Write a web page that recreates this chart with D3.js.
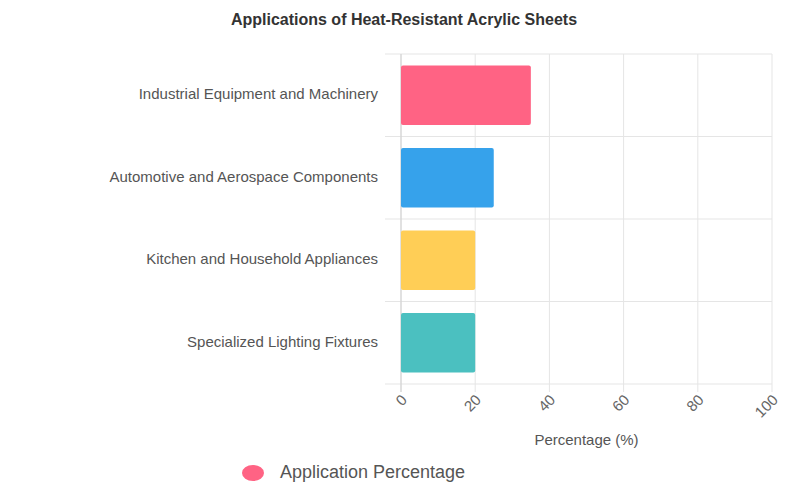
<!DOCTYPE html>
<html><head><meta charset="utf-8">
<script src="https://cdn.jsdelivr.net/npm/d3@7"></script>
<style>body{margin:0;background:#fff;font-family:"Helvetica Neue",Arial,"Liberation Sans",sans-serif;}</style>
</head><body>
<svg id="chart" width="800" height="500"></svg>
<script>
const categories = ['Industrial Equipment and Machinery', 'Automotive and Aerospace Components', 'Kitchen and Household Appliances', 'Specialized Lighting Fixtures'];
const values = [35, 25, 20, 20];
const colors = ['#FF6384', '#36A2EB', '#FFCE56', '#4BC0C0'];
const ticks = [0, 20, 40, 60, 80, 100];

const svg = d3.select('#chart');
const plotLeft = 401, plotRight = 772, plotTop = 54, plotBottom = 384;

const x = d3.scaleLinear().domain([0, 100]).range([plotLeft, plotRight]);
const y = d3.scaleBand().domain(categories).range([plotTop, plotBottom]).paddingInner(0.28).paddingOuter(0.14);
const band = (plotBottom - plotTop) / categories.length;

// grid
svg.append('g').selectAll('line').data(ticks).enter().append('line')
  .attr('x1', d => x(d)).attr('x2', d => x(d)).attr('y1', plotTop).attr('y2', plotBottom + 8)
  .attr('stroke', '#e5e5e5').attr('stroke-width', 1);
svg.append('g').selectAll('line').data(d3.range(categories.length + 1)).enter().append('line')
  .attr('x1', plotLeft - 16).attr('x2', plotRight).attr('y1', i => plotTop + i * band).attr('y2', i => plotTop + i * band)
  .attr('stroke', '#e5e5e5').attr('stroke-width', 1);
svg.append('line').attr('x1', plotLeft).attr('x2', plotLeft).attr('y1', plotTop).attr('y2', plotBottom + 8)
  .attr('stroke', '#d0d0d0');

// bars
svg.append('g').selectAll('rect').data(values).enter().append('rect')
  .attr('x', x(0)).attr('y', (d, i) => y(categories[i]))
  .attr('width', d => x(d) - x(0)).attr('height', y.bandwidth())
  .attr('rx', 2)
  .attr('fill', (d, i) => colors[i]);

// y labels
svg.append('g').selectAll('text').data(categories).enter().append('text')
  .attr('x', 378).attr('y', d => y(d) + y.bandwidth() / 2)
  .attr('text-anchor', 'end').attr('dominant-baseline', 'middle')
  .attr('font-size', 15).attr('fill', '#555').text(d => d);

// x ticks
svg.append('g').selectAll('text').data(ticks).enter().append('text')
  .attr('transform', d => `translate(${x(d) + 4},${plotBottom + 14}) rotate(-45)`)
  .attr('text-anchor', 'end').attr('dominant-baseline', 'middle')
  .attr('font-size', 15).attr('fill', '#666').text(d => d);

svg.append('text').attr('x', (plotLeft + plotRight) / 2).attr('y', 445).attr('text-anchor', 'middle')
  .attr('font-size', 15).attr('fill', '#555').text('Percentage (%)');

svg.append('text').attr('x', 404).attr('y', 25).attr('text-anchor', 'middle')
  .attr('font-size', 16).attr('font-weight', 'bold').attr('fill', '#333')
  .text('Applications of Heat-Resistant Acrylic Sheets');

// legend
svg.append('ellipse').attr('cx', 253).attr('cy', 473).attr('rx', 11).attr('ry', 8).attr('fill', colors[0]);
svg.append('text').attr('x', 280).attr('y', 473).attr('dominant-baseline', 'middle')
  .attr('font-size', 18).attr('fill', '#555').text('Application Percentage');
</script>
</body></html>
